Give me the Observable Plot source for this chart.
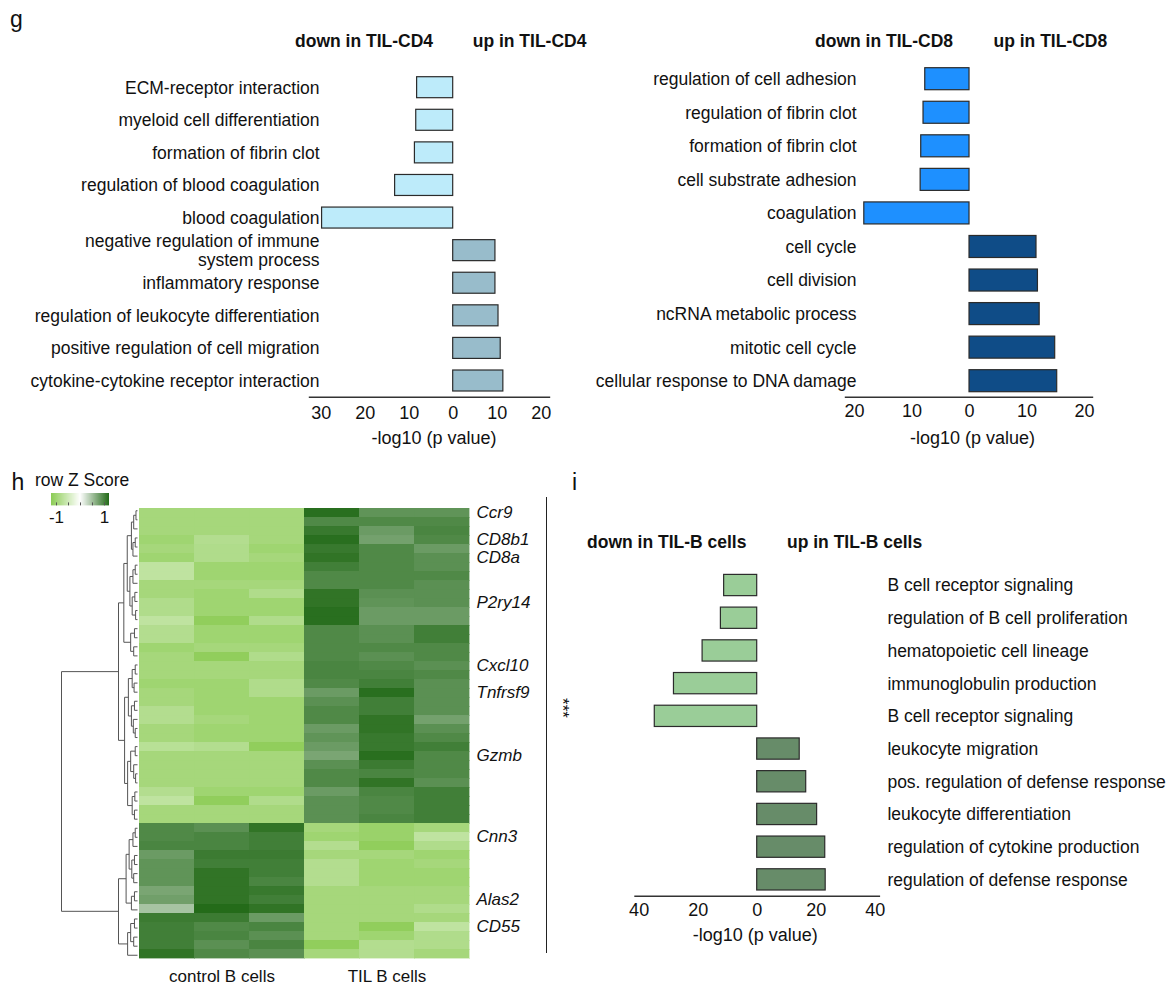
<!DOCTYPE html>
<html>
<head>
<meta charset="utf-8">
<script src="https://cdn.jsdelivr.net/npm/d3@7"></script>
<script src="https://cdn.jsdelivr.net/npm/@observablehq/plot@0.6"></script>
<style>
  body { margin: 0; background: #fff; }
  #fig { position: relative; width: 1170px; height: 990px; overflow: hidden;
         font-family: "Liberation Sans", Arial, sans-serif; color: #111; background: #fff; }
  .abs { position: absolute; line-height: 1; white-space: nowrap; }
  .head { font-weight: bold; font-size: 17.5px; transform: translateY(-50%); }
  .letter { font-size: 23px; }
</style>
</head>
<body>
<div id="fig"></div>
<script>
// ---------------- DATA ----------------
const cd4Terms = ["ECM-receptor interaction", "myeloid cell differentiation", "formation of fibrin clot",
  "regulation of blood coagulation", "blood coagulation", "negative regulation of immune\nsystem process",
  "inflammatory response", "regulation of leukocyte differentiation", "positive regulation of cell migration",
  "cytokine-cytokine receptor interaction"];
const cd4Values = [-8.2, -8.4, -8.7, -13.2, -29.8, 9.6, 9.6, 10.3, 10.8, 11.4];
const cd4Ticks = [-30, -20, -10, 0, 10, 20];

const cd8Terms = ["regulation of cell adhesion", "regulation of fibrin clot", "formation of fibrin clot",
  "cell substrate adhesion", "coagulation", "cell cycle", "cell division", "ncRNA metabolic process",
  "mitotic cell cycle", "cellular response to DNA damage"];
const cd8Values = [-7.7, -8.0, -8.4, -8.5, -18.3, 11.65, 11.9, 12.2, 14.9, 15.25];
const cd8Ticks = [-20, -10, 0, 10, 20];

const bTerms = ["B cell receptor signaling", "regulation of B cell proliferation", "hematopoietic cell lineage",
  "immunoglobulin production", "B cell receptor signaling", "leukocyte migration",
  "pos. regulation of defense response", "leukocyte differentiation", "regulation of cytokine production",
  "regulation of defense response"];
const bValues = [-11.2, -12.3, -18.5, -28.2, -34.7, 14.4, 16.6, 20.3, 23.05, 23.2];
const bTicks = [-40, -20, 0, 20, 40];

const sampleCols = ["control 1", "control 2", "control 3", "TIL 1", "TIL 2", "TIL 3"];
const groupLabels = ["control B cells", "TIL B cells"];
const groupCenterCols = ["control 2", "TIL 2"];
const geneNames = ["Ccr9", "CD8b1", "CD8a", "P2ry14", "Cxcl10", "Tnfrsf9", "Gzmb", "Cnn3", "Alas2", "CD55"];
const geneRows = [0, 3, 5, 10, 17, 20, 27, 36, 43, 46];

// row Z scores (rows top to bottom; columns control 1-3, TIL 1-3)
const zRows = [
  [-0.93, -0.93, -0.93, 1.17, 0.87, 0.87],
  [-0.93, -0.93, -0.93, 0.96, 0.96, 0.96],
  [-0.93, -0.93, -0.93, 1.09, 0.81, 0.99],
  [-1.00, -0.79, -0.93, 1.17, 0.76, 0.96],
  [-0.93, -0.82, -1.00, 1.09, 0.96, 0.81],
  [-1.00, -0.82, -0.93, 1.13, 0.96, 0.90],
  [-0.67, -1.00, -1.00, 1.04, 0.96, 0.90],
  [-0.67, -1.00, -1.00, 0.96, 0.96, 0.96],
  [-0.93, -0.93, -0.93, 0.96, 0.96, 0.90],
  [-0.93, -1.00, -0.82, 1.13, 0.90, 0.90],
  [-0.82, -1.00, -1.00, 1.13, 0.87, 0.90],
  [-0.82, -1.00, -1.00, 1.17, 0.81, 0.81],
  [-0.67, -1.15, -0.82, 1.17, 0.81, 0.81],
  [-0.79, -1.00, -1.00, 0.96, 0.90, 1.04],
  [-0.79, -1.00, -1.00, 0.96, 0.90, 1.04],
  [-1.00, -0.93, -0.93, 0.96, 0.96, 0.96],
  [-0.93, -1.15, -0.82, 0.96, 0.90, 0.96],
  [-0.93, -0.93, -0.93, 0.99, 0.96, 0.90],
  [-0.93, -0.93, -0.93, 0.99, 0.99, 0.96],
  [-1.00, -1.00, -0.82, 0.96, 1.04, 0.90],
  [-0.93, -1.00, -0.82, 0.81, 1.17, 0.90],
  [-0.93, -1.00, -1.00, 0.90, 1.04, 0.90],
  [-0.79, -1.00, -1.00, 0.96, 1.04, 0.90],
  [-0.79, -0.93, -1.00, 0.96, 1.13, 0.76],
  [-0.93, -1.00, -1.00, 0.81, 1.13, 0.90],
  [-0.93, -1.00, -1.00, 0.87, 1.09, 0.96],
  [-0.74, -0.79, -1.15, 0.81, 1.09, 1.04],
  [-0.93, -0.93, -0.93, 0.73, 1.17, 0.96],
  [-0.93, -0.93, -0.93, 0.90, 1.07, 0.96],
  [-0.93, -0.93, -0.93, 0.96, 0.99, 0.96],
  [-0.93, -0.93, -0.93, 0.96, 1.13, 0.90],
  [-0.79, -1.00, -1.00, 0.81, 0.99, 1.04],
  [-0.67, -1.15, -0.82, 0.90, 0.96, 1.04],
  [-0.93, -0.93, -0.93, 0.90, 0.96, 1.04],
  [-0.93, -0.93, -0.93, 0.90, 0.99, 1.04],
  [0.96, 0.90, 1.13, -0.93, -1.05, -0.93],
  [0.96, 0.99, 1.04, -1.00, -1.05, -0.67],
  [0.99, 0.99, 1.04, -0.79, -1.15, -0.82],
  [0.81, 1.07, 1.07, -0.93, -0.93, -1.00],
  [0.87, 1.04, 1.04, -0.79, -1.00, -0.93],
  [0.87, 1.13, 1.04, -0.79, -1.00, -1.00],
  [0.87, 1.13, 0.99, -0.79, -1.00, -1.00],
  [0.73, 1.13, 1.09, -0.93, -0.93, -0.93],
  [0.78, 1.13, 1.04, -0.93, -0.93, -0.93],
  [0.48, 1.20, 1.13, -0.93, -0.93, -0.82],
  [1.07, 1.07, 0.81, -0.93, -0.93, -0.93],
  [1.04, 0.96, 0.99, -0.93, -1.15, -0.67],
  [1.04, 0.99, 0.90, -0.93, -1.00, -0.82],
  [1.04, 0.90, 0.99, -1.15, -0.79, -0.82],
  [1.13, 0.96, 0.90, -0.93, -0.79, -0.93]
];
const zDomain = [-1.2, 0, 1.2];
const zColors = ["#8ccc55", "#ffffff", "#246b19"];
const zLegendTicks = [-1, -0.5, 0, 0.5, 1];

// row dendrogram: [merge height, left, right]; leaves are row indices
const dendro = [10,
  [2.5,
    [1.8,
      [1.35,
        [0.8, [0.5, [0.2, 0, 1], 2], [0.6, [0.3, 3, 4], 5]],
        [1.0, [0.6, [0.3, 6, 7], 8], [0.7, [0.35, 9, 10], [0.25, 11, 12]]]
      ],
      [0.9, [0.4, 13, 14], [0.5, 15, 16]]
    ],
    [1.7,
      [1.2, [0.7, [0.3, 17, 18], [0.45, 19, 20]], [0.8, [0.4, 21, 22], [0.55, 23, [0.3, 24, 25]]]],
      [1.3, [0.9, [0.3, 26, 27], [0.5, 28, [0.25, 29, 30]]], [0.7, [0.35, 31, 32], [0.4, 33, 34]]]
    ]
  ],
  [2.5,
    [1.5,
      [1.1, [0.6, [0.3, 35, 36], 37], [0.75, [0.4, 38, 39], [0.5, 40, 41]]],
      [0.8, [0.4, 42, 43], 44]
    ],
    [1.3, [0.9, [0.4, 45, 46], [0.5, 47, 48]], 49]
  ]
];

// ---------------- LAYOUT HELPERS ----------------
const FONT = '"Liberation Sans", Arial, sans-serif';
const fig = document.getElementById("fig");
function place(el, left, top) {
  el.style.position = "absolute";
  el.style.left = left + "px";
  el.style.top = top + "px";
  fig.appendChild(el);
  return el;
}
function addText(str, left, top, cls, css) {
  const d = document.createElement("div");
  d.className = "abs " + (cls || "");
  d.textContent = str;
  d.style.left = left + "px";
  d.style.top = top + "px";
  if (css) Object.assign(d.style, css);
  fig.appendChild(d);
  return d;
}
const baseStyle = {background: "transparent", fontFamily: FONT, color: "#111", overflow: "visible"};

function barChart(cfg) {
  const data = cfg.terms.map((t, i) => ({i, v: cfg.values[i]}));
  return Plot.plot({
    width: cfg.width, height: cfg.height,
    marginLeft: cfg.ml, marginRight: cfg.mr, marginTop: cfg.mt, marginBottom: cfg.mb,
    style: baseStyle,
    x: {domain: cfg.xDomain},
    y: {domain: data.map(d => d.i), paddingInner: cfg.pi, paddingOuter: cfg.po, round: false},
    marks: [
      Plot.barX(data.filter(d => d.v < 0), {x: "v", y: "i", fill: cfg.down, stroke: "#2b2b2b", strokeWidth: 1.2}),
      Plot.barX(data.filter(d => d.v >= 0), {x: "v", y: "i", fill: cfg.up, stroke: "#2b2b2b", strokeWidth: 1.2}),
      Plot.frame({anchor: "bottom", stroke: "#333", strokeWidth: 1.4}),
      Plot.axisX({ticks: cfg.ticks, tickSize: 0, tickPadding: cfg.tp, tickFormat: d => String(Math.abs(d)),
                  fontSize: 18, label: null}),
      Plot.axisY({anchor: cfg.yAnchor, tickSize: 0, tickPadding: cfg.ytp, tickFormat: i => cfg.terms[i],
                  fontSize: 17.5, lineHeight: 1.05, label: null}),
      Plot.text(["-log10 (p value)"], {frameAnchor: "bottom", dy: cfg.xlabDy, dx: cfg.xlabDx, fontSize: 18})
    ]
  });
}

// ---------------- PANEL g ----------------
addText("g", 10, 7.5, "letter");
place(barChart({
  terms: cd4Terms, values: cd4Values, ticks: cd4Ticks,
  width: 600, height: 460, ml: 309, mr: 51, mt: 71, mb: 63.3,
  xDomain: [-32.66, 21.89], pi: 0.356, po: 0.175, tp: 9, ytp: -10, yAnchor: "left",
  xlabDy: 46.3, xlabDx: 4.5, down: "#bdebfa", up: "#98bccb"
}), 0, 0);
addText("down in TIL-CD4", 295, 41.7, "head");
addText("up in TIL-CD4", 472.7, 41.7, "head");

place(barChart({
  terms: cd8Terms, values: cd8Values, ticks: cd8Ticks,
  width: 570, height: 460, ml: 245, mr: 78, mt: 62.7, mb: 63.3,
  xDomain: [-21.57, 21.39], pi: 0.344, po: 0.149, tp: 7, ytp: -11, yAnchor: "left",
  xlabDy: 46.3, xlabDx: 3.5, down: "#1e90ff", up: "#0f4c87"
}), 600, 0);
addText("down in TIL-CD8", 815, 41.7, "head");
addText("up in TIL-CD8", 993.5, 41.7, "head");

// ---------------- PANEL h ----------------
addText("h", 11.5, 470.5, "letter");
addText("row Z Score", 35, 480.7, "", {fontSize: "17.5px", transform: "translateY(-50%)"});

const legend = Plot.legend({
  color: {type: "linear", domain: zDomain, range: zColors},
  label: null,
  width: 70, height: 38.4, marginLeft: 6, marginRight: 6, marginTop: 0, marginBottom: 26,
  ticks: zLegendTicks, tickSize: 3,
  tickFormat: d => (d === -1 ? "-1" : d === 1 ? "1" : ""),
  style: {fontSize: "17px", fontFamily: FONT, color: "#111", background: "transparent", overflow: "visible"}
});
legend.querySelectorAll(".tick line").forEach(l => { l.setAttribute("y1", -3); l.setAttribute("y2", 0); l.setAttribute("stroke", "#555"); });
place(legend, 45, 493.3);

const heatCells = zRows.flatMap((r, i) => r.map((z, j) => ({row: i, col: sampleCols[j], z})));
const genes = geneNames.map((name, k) => ({name, row: geneRows[k]}));
const groups = groupLabels.map((label, k) => ({label, col: groupCenterCols[k]}));

place(Plot.plot({
  width: 600, height: 530, marginLeft: 139, marginRight: 131, marginTop: 45.7, marginBottom: 30.7,
  style: baseStyle,
  x: {domain: sampleCols, padding: 0, axis: null},
  y: {domain: d3.range(zRows.length), padding: 0, axis: null},
  color: {type: "linear", domain: zDomain, range: zColors, clamp: true},
  marks: [
    Plot.cell(heatCells, {x: "col", y: "row", fill: "z", stroke: "z", strokeWidth: 0.4, shapeRendering: "crispEdges"}),
    Plot.text(genes, {y: "row", text: "name", frameAnchor: "right", textAnchor: "start", dx: 7,
                      fontStyle: "italic", fontSize: 17}),
    Plot.text(groups, {x: "col", text: "label", frameAnchor: "bottom", dy: 22.5, fontSize: 17})
  ]
}), 0, 460);

// dendrogram from the merge tree
const segs = [];
function walk(node) {
  if (typeof node === "number") return {y: node + 0.5, h: 0};
  const [h, a, b] = node;
  const A = walk(a), B = walk(b);
  segs.push({x1: h, y1: A.y, x2: h, y2: B.y});
  segs.push({x1: A.h, y1: A.y, x2: h, y2: A.y});
  segs.push({x1: B.h, y1: B.y, x2: h, y2: B.y});
  return {y: (A.y + B.y) / 2, h};
}
walk(dendro);
place(Plot.plot({
  width: 139, height: 530, marginLeft: 61, marginRight: 2, marginTop: 45.7, marginBottom: 30.7,
  style: baseStyle,
  x: {domain: [10, 0], axis: null},
  y: {domain: [zRows.length, 0], axis: null},
  marks: [
    Plot.link(segs, {x1: "x1", y1: "y1", x2: "x2", y2: "y2", stroke: "#555", strokeWidth: 1})
  ]
}), 0, 460);

// significance bracket
const rule = document.createElement("div");
Object.assign(rule.style, {position: "absolute", left: "546px", top: "497px", width: "0px", height: "456px",
  borderLeft: "1.4px solid #222"});
fig.appendChild(rule);
addText("***", 562, 708, "", {fontSize: "17px", transform: "translate(-50%,-50%) rotate(90deg)"});

// ---------------- PANEL i ----------------
addText("i", 572, 470.5, "letter");
place(barChart({
  terms: bTerms, values: bValues, ticks: bTicks,
  width: 570, height: 530, ml: 34.5, mr: 291.1, mt: 108.7, mb: 94.3,
  xDomain: [-41.4, 41.4], pi: 0.35, po: 0.174, tp: 7, ytp: 8, yAnchor: "right",
  xlabDy: 44.3, xlabDx: -2, down: "#9acd98", up: "#678c69"
}), 600, 460);
addText("down in TIL-B cells", 587, 543.3, "head");
addText("up in TIL-B cells", 787, 543.3, "head");
</script>
</body>
</html>
